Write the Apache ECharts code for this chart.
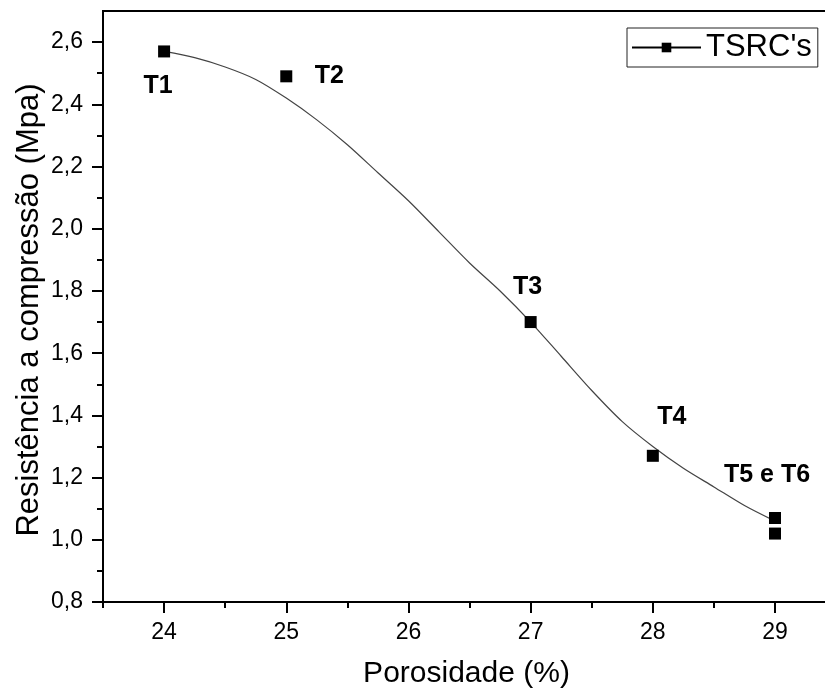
<!DOCTYPE html>
<html>
<head>
<meta charset="utf-8">
<script src="https://cdn.jsdelivr.net/npm/echarts@6/dist/echarts.min.js"></script>
<style>
  html, body { margin: 0; padding: 0; background: #fff; }
  #chart { width: 825px; height: 693px; }
</style>
</head>
<body>
<div id="chart"></div>
<script>
// measured points
var xPoints = [24, 25, 27, 28, 29, 29];
var yPoints = [2.57, 2.49, 1.70, 1.27, 1.07, 1.02];
var pointLabels = ['T1', 'T2', 'T3', 'T4', 'T5 e T6', ''];
// fitted curve
var curveX = [24, 24.25, 24.5, 24.75, 25, 25.25, 25.5, 25.75, 26, 26.25, 26.5, 26.75, 27, 27.25, 27.5, 27.75, 28, 28.25, 28.5, 28.75, 29];
var curveY = [2.57, 2.55, 2.52, 2.48, 2.42, 2.35, 2.27, 2.18, 2.09, 1.99, 1.89, 1.80, 1.70, 1.59, 1.48, 1.38, 1.30, 1.23, 1.17, 1.11, 1.06];
// ticks
var xTicks = [24, 25, 26, 27, 28, 29];
var xMinorTicks = [23.5, 24.5, 25.5, 26.5, 27.5, 28.5];
var yTicks = [0.8, 1.0, 1.2, 1.4, 1.6, 1.8, 2.0, 2.2, 2.4, 2.6];
var yMinorTicks = [0.9, 1.1, 1.3, 1.5, 1.7, 1.9, 2.1, 2.3, 2.5];

var FONT = 'Liberation Sans, Arial, sans-serif';
var labelOffsets = [[-6, 35], [43, 0], [-3, -35], [19, -39], [-8, -43], [0, 0]];

var scatterData = [];
xPoints.forEach(function (x, i) {
    scatterData.push({
        value: [x, yPoints[i]],
        label: { offset: labelOffsets[i], formatter: pointLabels[i] }
    });
});
var curveData = [];
curveX.forEach(function (x, i) {
    curveData.push([x, curveY[i]]);
});

var chart = echarts.init(document.getElementById('chart'));
var option = {
    backgroundColor: '#fff',
    animation: false,
    grid: {
        left: 103, top: 11, right: -5, bottom: 91,
        containLabel: false,
        outerBoundsMode: 'none',
        show: true, borderColor: '#000', borderWidth: 2
    },
    legend: {
        left: 627, top: 28,
        padding: [4, 6, 4, 4],
        borderColor: '#222', borderWidth: 1,
        itemWidth: 69, itemHeight: 12,
        itemGap: 5,
        textStyle: { fontFamily: FONT, fontSize: 31, color: '#000' },
        data: ["TSRC's"]
    },
    xAxis: [{
        type: 'value', min: 23.5, max: 29.45,
        name: 'Porosidade (%)', nameLocation: 'middle', nameGap: 57,
        nameTextStyle: { fontFamily: FONT, fontSize: 30, color: '#000' },
        axisLine: { lineStyle: { color: '#000', width: 2 } },
        axisTick: { customValues: xTicks, length: 11, inside: false, lineStyle: { color: '#000', width: 2 } },
        axisLabel: { customValues: xTicks, margin: 19, fontFamily: FONT, fontSize: 23, color: '#000' },
        splitLine: { show: false }
    }, {
        type: 'value', min: 23.5, max: 29.45, position: 'bottom', offset: 0,
        axisLine: { show: false },
        axisTick: { customValues: xMinorTicks, length: 6, lineStyle: { color: '#000', width: 2 } },
        axisLabel: { show: false },
        splitLine: { show: false }
    }],
    yAxis: [{
        type: 'value', min: 0.8, max: 2.7,
        axisLine: { lineStyle: { color: '#000', width: 2 } },
        axisTick: { customValues: yTicks, length: 11, lineStyle: { color: '#000', width: 2 } },
        axisLabel: {
            customValues: yTicks, margin: 20, fontFamily: FONT, fontSize: 23, color: '#000',
            formatter: function (v) { return v.toFixed(1).replace('.', ','); }
        },
        splitLine: { show: false }
    }, {
        type: 'value', min: 0.8, max: 2.7, position: 'left', offset: 0,
        axisLine: { show: false },
        axisTick: { customValues: yMinorTicks, length: 6, lineStyle: { color: '#000', width: 2 } },
        axisLabel: { show: false },
        splitLine: { show: false }
    }],
    graphic: [{
        type: 'text',
        x: 29, y: 310,
        rotation: Math.PI / 2,
        style: {
            text: 'Resistência a compressão (Mpa)',
            fontFamily: FONT, fontSize: 31, fill: '#000',
            align: 'center', verticalAlign: 'middle'
        }
    }],
    series: [{
        name: 'fit',
        type: 'line',
        smooth: 0.3,
        showSymbol: false,
        data: curveData,
        lineStyle: { color: '#444', width: 1.2 },
        z: 2
    }, {
        name: 'points',
        type: 'scatter',
        symbol: 'rect',
        symbolSize: 12,
        itemStyle: { color: '#000', opacity: 1 },
        data: scatterData,
        label: {
            show: true, position: 'inside',
            fontFamily: FONT, fontSize: 25, fontWeight: 'bold', color: '#000'
        },
        z: 3
    }, {
        name: "TSRC's",
        type: 'line',
        symbol: 'rect',
        symbolSize: 12,
        itemStyle: { color: '#000' },
        lineStyle: { color: '#000', width: 1 },
        data: []
    }]
};
chart.setOption(option);
</script>
</body>
</html>
